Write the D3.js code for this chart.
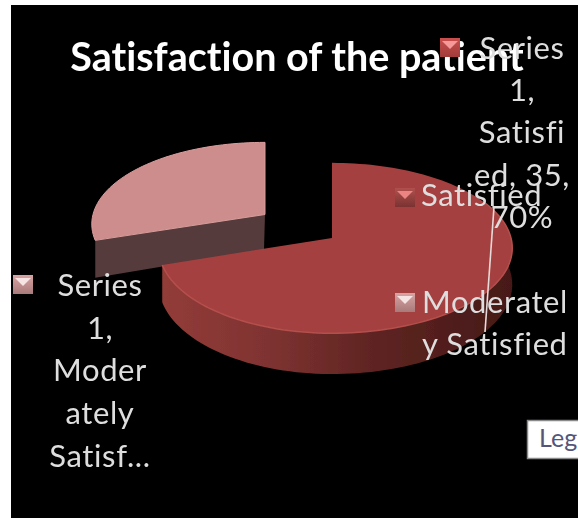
<!DOCTYPE html>
<html>
<head>
<meta charset="utf-8">
<script src="https://cdn.jsdelivr.net/npm/d3@7"></script>
<style>
	html,body {margin:0;padding:0;background:#fff;overflow:hidden}
	svg {display:block}
	text {font-family:Lato,"Open Sans",sans-serif;font-variant-ligatures:none}
	.lbl {fill:#dedede;font-size:31px;letter-spacing:0.6px}
</style>
</head>
<body>
<div id="chart"></div>
<script>
var categories=['Satisfied','Moderately Satisfied'];
var values=[35,15];
var percents=[70,30];
var title='Satisfaction of the patient';

// label text as wrapped in the picture
var labelSat=['Series','1,','Satisfi','ed, 35,','70%'];
var labelMod=['Series','1,','Moder','ately','Satisf...'];
var legendMod=['Moderatel','y Satisfied'];

var W=578,H=518;
var svg=d3.select('#chart').append('svg').attr('width',W).attr('height',H);
var defs=svg.append('defs');

defs.append('filter').attr('id','soft').append('feGaussianBlur').attr('stdDeviation',0.7);

function gradient(id,x1,x2,y1,y2,stops,user) {
	var g=defs.append('linearGradient').attr('id',id)
		.attr('x1',x1).attr('x2',x2).attr('y1',y1).attr('y2',y2);
	if (user) g.attr('gradientUnits','userSpaceOnUse');
	stops.forEach(function(s){ g.append('stop').attr('offset',s[0]).attr('stop-color',s[1]); });
}
gradient('sideMain',160,515,0,0,[[0,'#933c39'],[0.3,'#7f3331'],[0.6,'#5f2422'],[0.85,'#4f1d1b'],[1,'#451917']],true);
gradient('markRed',0,0,0,1,[[0,'#b0504e'],[1,'#7a3331']]);
gradient('markBright',0,0,0,1,[[0,'#c9504e'],[1,'#a03c3a']]);
gradient('markPink',0,0,0,1,[[0,'#d9a3a3'],[1,'#a87a7a']]);

// black chart area
svg.append('rect').attr('x',11).attr('y',5).attr('width',W-11).attr('height',H-5).attr('fill','#000');

var root=svg.append('g').attr('filter','url(#soft)');

var pie=d3.pie().sort(null)(values);
var deg=d3.scaleLinear().domain([0,2*Math.PI]).range([0,360]);

// flat ellipse with a little perspective, near edge bigger than far edge
var Rx=172,RxRight=179,Ry=84,k=0.118,depth=36;
function project(c,a,yf,dz) {
	var s=1/(1+k*Math.cos(a));
	var rx=Math.sin(a)>0 ? RxRight : Rx;
	return [c[0]+rx*Math.sin(a)*s, c[1]-Ry*yf*Math.cos(a)*s+(dz||0)*s];
}
function arcPoints(c,a0,a1,yf,dz) {
	var n=Math.ceil(Math.abs(deg(a1-a0))/2);
	return d3.range(n+1).map(function(i){ return project(c,a0+(a1-a0)*i/n,yf,dz); });
}
var line=d3.line();

var cMain=[332,238],cMod=[265,214.5];
var a0=pie[0].startAngle,a1=pie[0].endAngle;
var b0=pie[1].startAngle,b1=pie[1].endAngle;
var yfMod=0.96;

// moderately satisfied slice: cut face then top
var modFace=[project(cMod,b0,yfMod),cMod,[cMod[0]-1,cMod[1]+depth-1],project(cMod,b0,yfMod,depth)];
root.append('path').attr('d',line(modFace)+'Z').attr('fill','#553a3a');
root.append('path').attr('d',line([cMod].concat(arcPoints(cMod,b0,b1,yfMod)))+'Z')
	.attr('fill','#ce8d8d').attr('stroke','#d99c9c').attr('stroke-width',1);

// satisfied slice: rim side then top
var sideStart=Math.PI*0.42;
var side=arcPoints(cMain,sideStart,a1,1).concat(arcPoints(cMain,a1,sideStart,1,depth));
root.append('path').attr('d',line(side)+'Z').attr('fill','url(#sideMain)');
root.append('path').attr('d',line([cMain].concat(arcPoints(cMain,a0,a1,1)))+'Z').attr('fill','#a5403f');
root.append('path').attr('d',line(arcPoints(cMain,Math.PI*0.35,a1,1))).attr('fill','none').attr('stroke','#b44f4c').attr('stroke-width',1.5);

// leader line
root.append('line').attr('x1',494).attr('y1',207).attr('x2',485).attr('y2',332)
	.attr('stroke','#e6dada').attr('stroke-width',1.6);

function marker(x,y,grad,tri) {
	root.append('rect').attr('x',x).attr('y',y).attr('width',20).attr('height',19).attr('fill','url(#'+grad+')');
	root.append('path')
		.attr('d',line([[x+2,y+3],[x+18,y+3],[x+10,y+11]])+'Z')
		.attr('fill',tri);
}

function block(lines,x,y,step,anchor) {
	lines.forEach(function(t,i){
		root.append('text').attr('class','lbl')
			.attr('x',x).attr('y',y+i*step)
			.style('text-anchor',anchor)
			.text(t);
	});
}

// title
root.append('text').attr('x',297).attr('y',71)
	.style('text-anchor','middle').style('font-weight','700').style('font-size','39.5px')
	.attr('fill','#fff').text(title);

// data labels
marker(440,38,'markBright','#f59a98');
block(labelSat,522,59,42.2,'middle');
marker(13,275,'markPink','#f6e4e4');
block(labelMod,100,296,42.7,'middle');

// legend
marker(395,188,'markRed','#ea8583');
block([categories[0]],421,206,0,'start');
marker(395,293,'markPink','#f6e4e4');
block(legendMod,422,313,42,'start');

// tooltip box, runs off the page
svg.append('rect').attr('x',527.5).attr('y',420.5).attr('width',60).attr('height',38)
	.attr('fill','#fff').attr('stroke','#8a8a8a').attr('stroke-width',1.5);
svg.append('text').attr('x',539).attr('y',447)
	.style('font-size','25px').attr('fill','#55557a').text('Leg');
</script>
</body>
</html>
